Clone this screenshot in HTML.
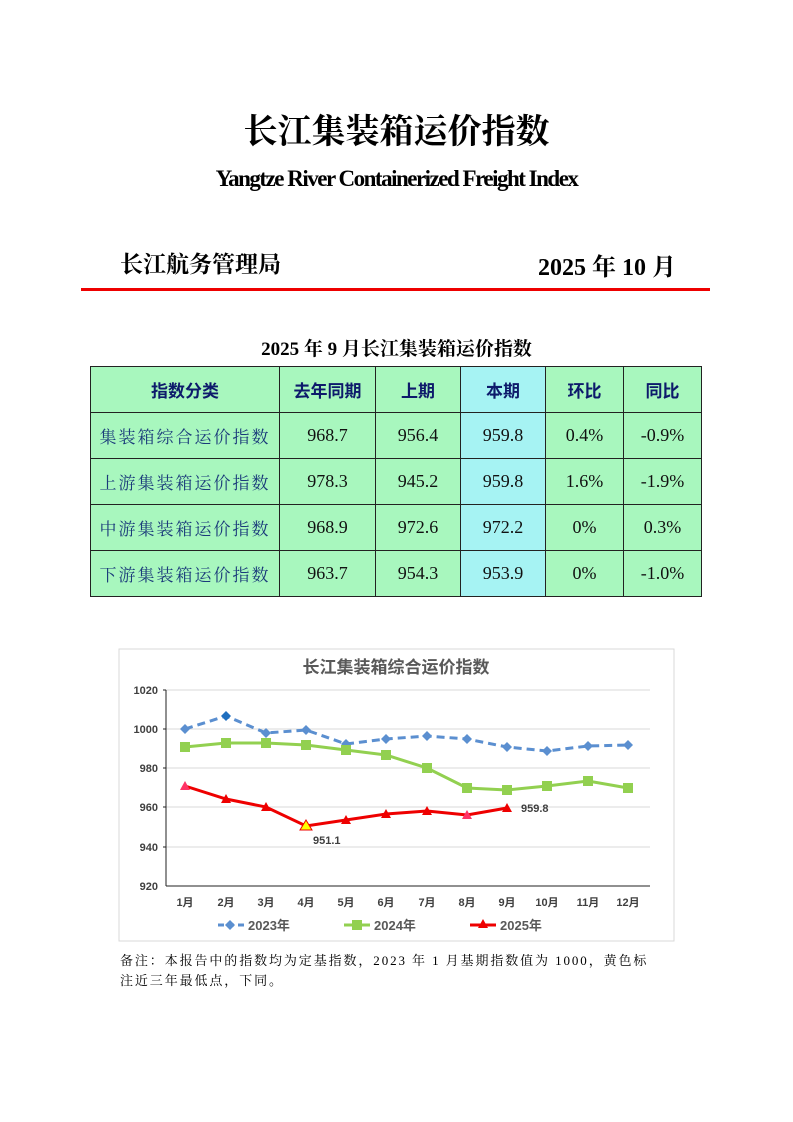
<!DOCTYPE html>
<html><head><meta charset="utf-8"><style>
body{margin:0;width:793px;height:1122px;background:#fff;position:relative;font-family:"Liberation Serif","Noto Serif CJK SC",serif;}
.a{position:absolute;white-space:nowrap}
table{position:absolute;left:90px;top:366px;border-collapse:collapse;}
td{border:1px solid #222;height:45px;text-align:center;font-size:18px;background:#a8f7be;padding:0;color:#111}
tr.h td{color:#0d1a6b;font-weight:bold;font-family:"Liberation Sans","Noto Sans CJK SC",sans-serif;font-size:17px}
td.c{background:#a6f3f3}
td.n{color:#1a3a7a;letter-spacing:2px;font-family:"Liberation Serif","Noto Serif CJK SC",serif;font-size:17px}
</style></head><body>
<div class="a" style="left:0;width:793px;text-align:center;top:104px;font-size:34px;font-family:'Liberation Serif','Noto Serif CJK SC',serif;font-weight:bold">长江集装箱运价指数</div>
<div class="a" style="left:0;width:793px;text-align:center;top:166px;font-size:23px;font-weight:bold;letter-spacing:-1.5px">Yangtze River Containerized Freight Index</div>
<div class="a" style="left:120px;top:246px;font-size:23px;font-weight:bold;font-family:'Liberation Serif','Noto Serif CJK SC',serif">长江航务管理局</div>
<div class="a" style="left:538px;top:247px;font-size:24px;font-weight:bold">2025 年 10 月</div>
<div class="a" style="left:81px;top:288px;width:629px;height:3px;background:#e00"></div>
<div class="a" style="left:0;width:793px;text-align:center;top:334px;font-size:19px;font-weight:bold">2025 年 9 月长江集装箱运价指数</div>
<table>
<tr class="h"><td style="width:188px">指数分类</td><td style="width:95px">去年同期</td><td style="width:84px">上期</td><td class="c" style="width:84px">本期</td><td style="width:77px">环比</td><td style="width:77px">同比</td></tr>
<tr><td class="n">集装箱综合运价指数</td><td>968.7</td><td>956.4</td><td class="c">959.8</td><td>0.4%</td><td>-0.9%</td></tr>
<tr><td class="n">上游集装箱运价指数</td><td>978.3</td><td>945.2</td><td class="c">959.8</td><td>1.6%</td><td>-1.9%</td></tr>
<tr><td class="n">中游集装箱运价指数</td><td>968.9</td><td>972.6</td><td class="c">972.2</td><td>0%</td><td>0.3%</td></tr>
<tr><td class="n">下游集装箱运价指数</td><td>963.7</td><td>954.3</td><td class="c">953.9</td><td>0%</td><td>-1.0%</td></tr>
</table>
<svg class="a" style="left:0;top:0" width="793" height="1122" font-family="Liberation Sans, Noto Sans CJK SC, sans-serif">
<rect x="119" y="649" width="555" height="292" fill="#fff" stroke="#d9d9d9"/>
<text x="396" y="673" text-anchor="middle" font-size="17" font-weight="bold" fill="#595959">长江集装箱综合运价指数</text>
<g stroke="#d9d9d9"><line x1="166" x2="650" y1="690" y2="690"/><line x1="166" x2="650" y1="729" y2="729"/><line x1="166" x2="650" y1="768" y2="768"/><line x1="166" x2="650" y1="807" y2="807"/><line x1="166" x2="650" y1="847" y2="847"/></g>
<g stroke="#222"><line x1="163" x2="166" y1="690" y2="690"/><line x1="163" x2="166" y1="729" y2="729"/><line x1="163" x2="166" y1="768" y2="768"/><line x1="163" x2="166" y1="807" y2="807"/><line x1="163" x2="166" y1="847" y2="847"/><line x1="166" x2="166" y1="690" y2="886"/><line x1="166" x2="650" y1="886" y2="886"/></g>
<g font-size="11" font-weight="bold" fill="#404040" text-anchor="end"><text x="158" y="694">1020</text><text x="158" y="733">1000</text><text x="158" y="772">980</text><text x="158" y="811">960</text><text x="158" y="851">940</text><text x="158" y="890">920</text></g>
<g font-size="11" font-weight="bold" fill="#404040" text-anchor="middle">
<text x="185" y="906">1月</text><text x="226" y="906">2月</text><text x="266" y="906">3月</text><text x="306" y="906">4月</text><text x="346" y="906">5月</text><text x="386" y="906">6月</text><text x="427" y="906">7月</text><text x="467" y="906">8月</text><text x="507" y="906">9月</text><text x="547" y="906">10月</text><text x="588" y="906">11月</text><text x="628" y="906">12月</text></g>
<polyline fill="none" stroke="#5b8fd0" stroke-width="3" stroke-dasharray="8,5" points="185,729 226,716 266,733 306,730 346,744 386,739 427,736 467,739 507,747 547,751 588,746 628,745"/>
<g fill="#5b8fd0"><path d="M185,724l5,5-5,5-5-5z"/><path d="M226,711l5,5-5,5-5-5z" fill="#1f6fbf"/><path d="M266,728l5,5-5,5-5-5z"/><path d="M306,725l5,5-5,5-5-5z"/><path d="M346,739l5,5-5,5-5-5z"/><path d="M386,734l5,5-5,5-5-5z"/><path d="M427,731l5,5-5,5-5-5z"/><path d="M467,734l5,5-5,5-5-5z"/><path d="M507,742l5,5-5,5-5-5z"/><path d="M547,746l5,5-5,5-5-5z"/><path d="M588,741l5,5-5,5-5-5z"/><path d="M628,740l5,5-5,5-5-5z"/></g>
<polyline fill="none" stroke="#92d050" stroke-width="3" points="185,747 226,743 266,743 306,745 346,750 386,755 427,768 467,788 507,790 547,786 588,781 628,788"/>
<g fill="#92d050"><rect x="180" y="742" width="10" height="10"/><rect x="221" y="738" width="10" height="10"/><rect x="261" y="738" width="10" height="10"/><rect x="301" y="740" width="10" height="10"/><rect x="341" y="745" width="10" height="10"/><rect x="381" y="750" width="10" height="10"/><rect x="422" y="763" width="10" height="10"/><rect x="462" y="783" width="10" height="10"/><rect x="502" y="785" width="10" height="10"/><rect x="542" y="781" width="10" height="10"/><rect x="583" y="776" width="10" height="10"/><rect x="623" y="783" width="10" height="10"/></g>
<polyline fill="none" stroke="#e00" stroke-width="3" points="185,786 226,799 266,807 306,826 346,820 386,814 427,811 467,815 507,808"/>
<g fill="#e00"><path d="M185,781l5,9h-10z" fill="#f36"/><path d="M226,794l5,9h-10z"/><path d="M266,802l5,9h-10z"/><path d="M306,820l6,10h-12z" fill="#ff0" stroke="#e00"/><path d="M346,815l5,9h-10z"/><path d="M386,809l5,9h-10z"/><path d="M427,806l5,9h-10z"/><path d="M467,810l5,9h-10z" fill="#f36"/><path d="M507,803l5,9h-10z"/></g>
<text x="313" y="844" font-size="11" font-weight="bold" fill="#404040">951.1</text>
<text x="521" y="812" font-size="11" font-weight="bold" fill="#404040">959.8</text>
<line x1="218" x2="244" y1="925" y2="925" stroke="#5b8fd0" stroke-width="3" stroke-dasharray="6,4"/><path d="M230,920l5,5-5,5-5-5z" fill="#5b8fd0"/>
<text x="248" y="930" font-size="13" font-weight="bold" fill="#595959">2023年</text>
<line x1="344" x2="370" y1="925" y2="925" stroke="#92d050" stroke-width="3"/><rect x="352" y="920" width="10" height="10" fill="#92d050"/>
<text x="374" y="930" font-size="13" font-weight="bold" fill="#595959">2024年</text>
<line x1="470" x2="496" y1="925" y2="925" stroke="#e00" stroke-width="3"/><path d="M483,919l5,9h-10z" fill="#e00"/>
<text x="500" y="930" font-size="13" font-weight="bold" fill="#595959">2025年</text>
</svg>
<div class="a" style="left:120px;top:951px;font-size:13px;line-height:20px;white-space:nowrap;letter-spacing:1.9px">备注：本报告中的指数均为定基指数，2023 年 1 月基期指数值为 1000，黄色标<br>注近三年最低点，下同。</div>
</body></html>
